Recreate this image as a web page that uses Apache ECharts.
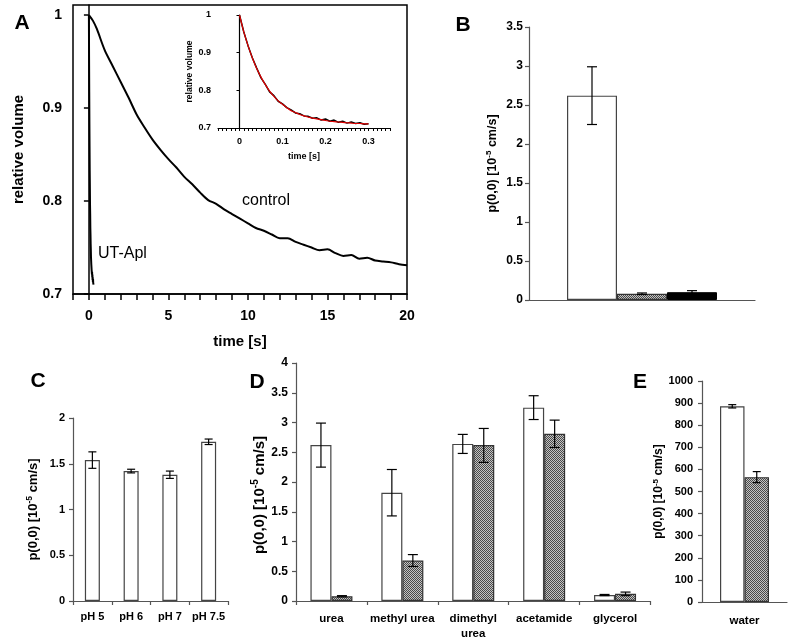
<!DOCTYPE html>
<html><head><meta charset="utf-8">
<script src="https://cdn.jsdelivr.net/npm/echarts@6/dist/echarts.min.js"></script>
<style>html,body{margin:0;padding:0;background:#fff}#main{width:800px;height:641px}</style>
</head><body><div id="main"></div>
<script>
// ---------- DATA ----------
// Panel A: swelling curves
const controlT = [0,0.25,0.5,1,1.5,2,2.5,3,3.5,4,4.5,5,5.5,6,6.5,7,7.5,8,8.5,9,9.5,10,10.5,11,11.5,12,12.5,13,13.5,14,14.5,15,15.5,16,16.5,17,17.5,18,18.5,19,19.5,20];
const controlV = [1.000,0.994,0.985,0.962,0.945,0.928,0.911,0.893,0.879,0.866,0.855,0.845,0.836,0.826,0.818,0.809,0.801,0.797,0.791,0.786,0.781,0.776,0.771,0.768,0.764,0.760,0.760,0.756,0.753,0.750,0.747,0.748,0.744,0.741,0.742,0.738,0.739,0.736,0.735,0.734,0.732,0.731];
const utT = [0,0.01,0.02,0.03,0.04,0.05,0.06,0.07,0.08,0.09,0.10,0.11,0.12,0.13,0.14,0.15,0.16,0.17,0.18,0.19,0.20,0.21,0.22,0.23,0.24,0.25,0.26,0.27,0.28,0.29,0.30];
const utV = [1.000,0.955,0.918,0.886,0.859,0.833,0.816,0.796,0.786,0.771,0.764,0.754,0.748,0.740,0.738,0.732,0.731,0.726,0.727,0.721,0.724,0.718,0.721,0.715,0.718,0.713,0.716,0.712,0.714,0.710,0.711];
const fitV = [1.000,0.955,0.918,0.886,0.858,0.835,0.815,0.798,0.784,0.772,0.763,0.754,0.746,0.741,0.736,0.732,0.729,0.726,0.724,0.722,0.720,0.718,0.717,0.716,0.715,0.714,0.713,0.712,0.712,0.711,0.711];
const aXTicks = [-1,0,1,2,3,4,5,6,7,8,9,10,11,12,13,14,15,16,17,18,19,20];
const aXLabels = [0,5,10,15,20];
const aYTicks = [0.7,0.8,0.9,1];
const inXTicks = [-0.05,-0.04,-0.03,-0.02,-0.01,0,0.01,0.02,0.03,0.04,0.05,0.06,0.07,0.08,0.09,0.1,0.11,0.12,0.13,0.14,0.15,0.16,0.17,0.18,0.19,0.2,0.21,0.22,0.23,0.24,0.25,0.26,0.27,0.28,0.29,0.3,0.31,0.32,0.33,0.34,0.35];
const inXLabels = [0,0.1,0.2,0.3];
const inYTicks = [0.7,0.8,0.9,1];
// Panel B
const bCats = [''];
const bWhite = [2.62], bWhiteLo = [2.25], bWhiteHi = [2.99];
const bHatch = [0.08], bHatchLo = [0.07], bHatchHi = [0.09];
const bBlack = [0.10], bBlackLo = [0.08], bBlackHi = [0.12];
// Panel C
const cCats = ['pH 5','pH 6','pH 7','pH 7.5'];
const cVals = [1.54,1.42,1.38,1.74];
const cLo = [1.45,1.40,1.34,1.71];
const cHi = [1.63,1.44,1.42,1.77];
// Panel D
const dCats = ['urea','methyl urea','dimethyl\nurea','acetamide','glycerol'];
const dWhite = [2.62,1.82,2.64,3.25,0.10];
const dWhiteLo = [2.25,1.43,2.48,3.05,0.09];
const dWhiteHi = [2.99,2.21,2.80,3.45,0.11];
const dHatch = [0.08,0.68,2.62,2.81,0.12];
const dHatchLo = [0.07,0.58,2.33,2.58,0.09];
const dHatchHi = [0.09,0.78,2.90,3.04,0.15];
// Panel E
const eCats = ['water'];
const eWhite = [886], eWhiteLo = [878], eWhiteHi = [893];
const eHatch = [565], eHatchLo = [540], eHatchHi = [590];

// ---------- STYLE ----------
const FF = '"Liberation Sans", Arial, Helvetica, sans-serif';
const pc = document.createElement('canvas'); pc.width = 2; pc.height = 2;
(function(){ const c = pc.getContext('2d'); c.fillStyle = '#c4c4c4'; c.fillRect(0,0,2,2); c.fillStyle = '#4a4a4a'; c.fillRect(0,0,1,1); c.fillRect(1,1,1,1); })();
const hatchFill = {image: pc, repeat: 'repeat'};
const whiteStyle = {color:'#fff', borderColor:'#444', borderWidth:1.2};
const hatchStyle = {color:hatchFill, borderColor:'#333', borderWidth:1.2};
const blackStyle = {color:'#000', borderColor:'#000', borderWidth:1};
const zip = (a,b) => a.map((v,i)=>[v,b[i]]);
const fmt = v => String(+(+v).toFixed(2));

function pName(fs, sup, shift) {
  return {
    name: '{n|p(0,0) [10}{s|-5}{n| cm/s]}',
    nameTextStyle: {padding:[0, shift || 0, 0, 0], rich: {
      n: {fontSize: fs, fontWeight:'bold', fontFamily:FF, color:'#000', verticalAlign:'bottom'},
      s: {fontSize: sup, fontWeight:'bold', fontFamily:FF, color:'#000', verticalAlign:'bottom', padding:[0,0,Math.round(fs*0.45),0]}
    }}
  };
}
function barX(gi, cats, fs, tickShow, margin) {
  return {gridIndex:gi, type:'category', data:cats,
    axisLine:{lineStyle:{color:'#555', width:1.2}},
    axisTick:{show:tickShow, length:4, lineStyle:{color:'#555', width:1.2}},
    axisLabel:{interval:0, fontSize:fs, fontWeight:'bold', fontFamily:FF, color:'#000', margin:margin, lineHeight:fs+3},
    splitLine:{show:false}};
}
function barY(gi, max, interval, fs, margin, nameFs, supFs, gap, shift) {
  return Object.assign({gridIndex:gi, type:'value', min:0, max:max, interval:interval,
    axisLine:{show:true, lineStyle:{color:'#555', width:1.2}},
    axisTick:{show:true, length:4, lineStyle:{color:'#555', width:1.2}},
    axisLabel:{fontSize:fs, fontWeight:'bold', fontFamily:FF, color:'#000', margin:margin, formatter:fmt},
    splitLine:{show:false}, nameLocation:'middle', nameRotate:90, nameGap:gap}, pName(nameFs, supFs, shift));
}
function errBars(ai, lows, highs, offset, cap) {
  return {type:'custom', xAxisIndex:ai, yAxisIndex:ai, z:10, silent:true,
    data: lows.map((lo,i)=>[i, lo, highs[i]]),
    encode:{x:0, y:[1,2]},
    renderItem:(params, api) => {
      const p1 = api.coord([api.value(0), api.value(1)]);
      const p2 = api.coord([api.value(0), api.value(2)]);
      const x = p1[0] + offset;
      const st = {stroke:'#000', lineWidth:1.2};
      return {type:'group', children:[
        {type:'line', shape:{x1:x, y1:p1[1], x2:x, y2:p2[1]}, style:st},
        {type:'line', shape:{x1:x-cap, y1:p1[1], x2:x+cap, y2:p1[1]}, style:st},
        {type:'line', shape:{x1:x-cap, y1:p2[1], x2:x+cap, y2:p2[1]}, style:st}
      ]};
    }};
}
function bar(ai, data, style, w) {
  return {type:'bar', xAxisIndex:ai, yAxisIndex:ai, data:data, itemStyle:style, barWidth:w, barGap:'0%', silent:true};
}

const chart = echarts.init(document.getElementById('main'));
chart.setOption({
  animation:false,
  backgroundColor:'#fff',
  grid:[
    {left:73, top:5, width:334, height:289, show:true, borderColor:'#000', borderWidth:1.5, backgroundColor:'transparent'},
    {left:218, top:15, width:172, height:113},
    {left:529, top:27, width:226, height:273},
    {left:73, top:418, width:155, height:183},
    {left:296, top:363, width:354.5, height:241},
    {left:702, top:381, width:85, height:221}
  ],
  xAxis:[
    {gridIndex:0, type:'value', min:-1, max:20,
      axisLine:{lineStyle:{color:'#000', width:1.5}},
      axisTick:{customValues:aXTicks, length:6, lineStyle:{color:'#000', width:1.5}},
      axisLabel:{customValues:aXLabels, margin:15, fontSize:14, fontWeight:'bold', fontFamily:FF, color:'#000'},
      splitLine:{show:false},
      name:'time [s]', nameLocation:'middle', nameGap:40,
      nameTextStyle:{fontSize:15, fontWeight:'bold', fontFamily:FF, color:'#000'}},
    {gridIndex:1, type:'value', min:-0.05, max:0.35,
      axisLine:{lineStyle:{color:'#000', width:1.2}},
      axisTick:{customValues:inXTicks, length:3, lineStyle:{color:'#000', width:1}},
      axisLabel:{customValues:inXLabels, margin:9, fontSize:9, fontWeight:'bold', fontFamily:FF, color:'#000', formatter:fmt},
      splitLine:{show:false},
      name:'time [s]', nameLocation:'middle', nameGap:24,
      nameTextStyle:{fontSize:9, fontWeight:'bold', fontFamily:FF, color:'#000'}},
    barX(2, bCats, 12, false, 8),
    barX(3, cCats, 11, true, 9),
    barX(4, dCats, 11.5, true, 11),
    barX(5, eCats, 11.5, false, 12)
  ],
  yAxis:[
    {gridIndex:0, type:'value', min:0.7, max:1.0108,
      axisLine:{show:true, lineStyle:{color:'#000', width:1.5}},
      axisTick:{show:true, customValues:aYTicks, length:5, lineStyle:{color:'#000', width:1.5}},
      axisLabel:{customValues:aYTicks, margin:11, fontSize:14, fontWeight:'bold', fontFamily:FF, color:'#000', formatter:fmt},
      splitLine:{show:false},
      name:'relative volume', nameLocation:'middle', nameRotate:90, nameGap:47,
      nameTextStyle:{fontSize:15, fontWeight:'bold', fontFamily:FF, color:'#000'}},
    {gridIndex:1, type:'value', min:0.7, max:1,
      axisLine:{show:true, lineStyle:{color:'#000', width:1.2}},
      axisTick:{show:true, customValues:inYTicks, length:3, lineStyle:{color:'#000', width:1}},
      axisLabel:{customValues:inYTicks, margin:7, fontSize:9, fontWeight:'bold', fontFamily:FF, color:'#000', formatter:fmt},
      splitLine:{show:false},
      name:'relative volume', nameLocation:'middle', nameRotate:90, nameGap:22,
      nameTextStyle:{fontSize:8.5, fontWeight:'bold', fontFamily:FF, color:'#000'}},
    barY(2, 3.5, 0.5, 12, 6, 12.5, 8, 30, 0),
    barY(3, 2, 0.5, 11, 8, 13, 8.5, 33, 0),
    barY(4, 4, 0.5, 12, 8, 15, 10, 28, 26),
    barY(5, 1000, 100, 11, 9, 12, 8, 27, 0)
  ],
  series:[
    {type:'line', xAxisIndex:0, yAxisIndex:0, data:zip(controlT, controlV), showSymbol:false, smooth:0.3, lineStyle:{color:'#000', width:2}, silent:true},
    {type:'line', xAxisIndex:0, yAxisIndex:0, data:zip(utT, utV), showSymbol:false, lineStyle:{color:'#000', width:2}, silent:true},
    {type:'line', xAxisIndex:1, yAxisIndex:1, data:zip(utT, utV), showSymbol:false, lineStyle:{color:'#000', width:1.5}, silent:true},
    {type:'line', xAxisIndex:1, yAxisIndex:1, data:zip(utT, fitV), showSymbol:false, smooth:0.3, lineStyle:{color:'#e00000', width:1.2}, silent:true},
    bar(2, bWhite, whiteStyle, 50), bar(2, bHatch, hatchStyle, 50), bar(2, bBlack, blackStyle, 50),
    errBars(2, bWhiteLo, bWhiteHi, -50, 5), errBars(2, bHatchLo, bHatchHi, 0, 5), errBars(2, bBlackLo, bBlackHi, 50, 5),
    bar(3, cVals, whiteStyle, 15),
    errBars(3, cLo, cHi, 0, 4),
    bar(4, dWhite, whiteStyle, 21), bar(4, dHatch, hatchStyle, 21),
    errBars(4, dWhiteLo, dWhiteHi, -10.5, 5), errBars(4, dHatchLo, dHatchHi, 10.5, 5),
    bar(5, eWhite, whiteStyle, 24.5), bar(5, eHatch, hatchStyle, 24.5),
    errBars(5, eWhiteLo, eWhiteHi, -12.25, 4), errBars(5, eHatchLo, eHatchHi, 12.25, 4)
  ],
  graphic:[
    {type:'text', x:22, y:23, style:{text:'A', font:'bold 21px '+FF, fill:'#000', align:'center', verticalAlign:'middle'}},
    {type:'text', x:463, y:25, style:{text:'B', font:'bold 21px '+FF, fill:'#000', align:'center', verticalAlign:'middle'}},
    {type:'text', x:38, y:381, style:{text:'C', font:'bold 21px '+FF, fill:'#000', align:'center', verticalAlign:'middle'}},
    {type:'text', x:257, y:382, style:{text:'D', font:'bold 21px '+FF, fill:'#000', align:'center', verticalAlign:'middle'}},
    {type:'text', x:640, y:382, style:{text:'E', font:'bold 21px '+FF, fill:'#000', align:'center', verticalAlign:'middle'}},
    {type:'text', x:98, y:254, style:{text:'UT-Apl', font:'16px '+FF, fill:'#000', align:'left', verticalAlign:'middle'}},
    {type:'text', x:242, y:201, style:{text:'control', font:'16px '+FF, fill:'#000', align:'left', verticalAlign:'middle'}}
  ]
});
</script></body></html>
